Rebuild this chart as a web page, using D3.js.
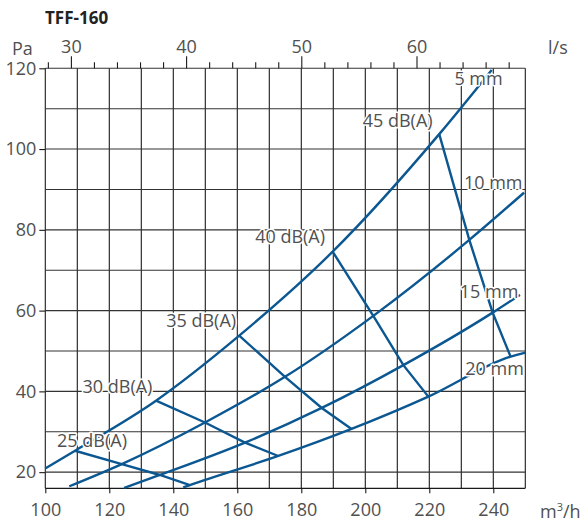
<!DOCTYPE html>
<html><head><meta charset="utf-8">
<script src="https://cdn.jsdelivr.net/npm/d3@7/dist/d3.min.js"></script>
<style>
body{margin:0;background:#fff}
text{font-family:"Open Sans",sans-serif}
</style>
</head><body>
<svg id="chart" width="584" height="527"></svg>
<script>
// ---------- data ----------
const title = "TFF-160";
const xTickValues = [100,120,140,160,180,200,220,240];      // m³/h
const yTickValues = [20,40,60,80,100,120];                  // Pa
const lsMajorTicks = [30,40,50,60];                         // l/s
const lsMinorTicks = [28,32,34,36,38,42,44,46,48,52,54,56,58,62,64,66,68];

// damper curves [m³/h, Pa]
const curve5mm  = [[100,20.9],[109.3,25.3],[134.6,37.7],[160.6,53.8],[189.8,74.6],[223.1,103.7],[239.5,119.6]];
const curve10mm = [[107.5,16.5],[123.9,22.0],[149.9,32.3],[174.9,43.6],[202.5,58.7],[232.5,77.5],[249.6,89.2]];
const curve15mm = [[124.6,16.1],[135.8,19.3],[162.4,27.3],[186.4,35.9],[211.9,46.5],[239.8,59.5],[248.3,63.9]];
const curve20mm = [[143.1,16.2],[145.2,16.8],[172.8,24.0],[195.7,30.7],[219.7,38.7],[245.4,48.6],[250,49.6]];
const curveLabels = ["5 mm","10 mm","15 mm","20 mm"];

// sound level lines [m³/h, Pa]
const db25 = [[109.3,25.3],[123.9,22.0],[135.8,19.3],[145.2,16.8]];
const db30 = [[134.6,37.7],[149.9,32.3],[162.4,27.3],[172.8,24.0]];
const db35 = [[160.6,53.8],[174.9,43.6],[186.4,35.9],[195.7,30.7]];
const db40 = [[189.8,74.6],[202.5,58.7],[211.9,46.5],[219.7,38.7]];
const db45 = [[223.1,103.7],[232.5,77.5],[239.8,59.5],[245.4,48.6]];
const dbLabels = ["25 dB(A)","30 dB(A)","35 dB(A)","40 dB(A)","45 dB(A)"];

// ---------- layout ----------
const svg = d3.select("#chart");
const x = d3.scaleLinear().domain([100,250]).range([45.3,525.3]);
const y = d3.scaleLinear().domain([16,120]).range([488.3,68.3]);
const xLs = d3.scaleLinear().domain([100/3.6,250/3.6]).range([45.3,525.3]);
const blue = "#0b5791";
const txt = "#505050";
const fs = "18px";

// grid
const g = svg.append("g");
g.selectAll(".vg").data(d3.range(100,251,10)).join("line")
  .attr("x1",d=>x(d)).attr("x2",d=>x(d)).attr("y1",y(120)).attr("y2",y(16))
  .attr("stroke","#1a1a1a").attr("stroke-width",1.1);
g.selectAll(".hg").data(d3.range(20,121,10)).join("line")
  .attr("x1",x(100)).attr("x2",x(250)).attr("y1",d=>y(d)).attr("y2",d=>y(d))
  .attr("stroke","#333").attr("stroke-width",1.1);
g.append("line").attr("x1",x(100)).attr("x2",x(250)).attr("y1",y(16)).attr("y2",y(16))
  .attr("stroke","#1a1a1a").attr("stroke-width",1.3);

function styleAxis(sel){
  sel.select(".domain").remove();
  sel.selectAll("line").attr("stroke","#1a1a1a").attr("stroke-width",1.1);
  sel.selectAll("text").attr("fill",txt).style("font-size",fs);
}

// bottom axis
svg.append("g").attr("transform",`translate(0,${y(16)})`)
  .call(d3.axisBottom(x).tickValues(xTickValues).tickSize(5).tickPadding(10))
  .call(styleAxis);
// left axis
svg.append("g").attr("transform",`translate(${x(100)},0)`)
  .call(d3.axisLeft(y).tickValues(yTickValues).tickSize(6).tickPadding(3))
  .call(styleAxis);
// top axis minor + major
svg.append("g").attr("transform",`translate(0,${y(120)})`)
  .call(d3.axisTop(xLs).tickValues(lsMinorTicks).tickSize(6).tickFormat(""))
  .call(styleAxis);
svg.append("g").attr("transform",`translate(0,${y(120)})`)
  .call(d3.axisTop(xLs).tickValues(lsMajorTicks).tickSize(12).tickPadding(3))
  .call(styleAxis);

// unit labels
svg.append("text").attr("x",12).attr("y",55).text("Pa").attr("fill",txt).style("font-size",fs);
svg.append("text").attr("x",548).attr("y",53.5).text("l/s").attr("fill",txt).style("font-size",fs);
const mu = svg.append("text").attr("x",540).attr("y",517.5).attr("fill",txt).style("font-size",fs);
mu.append("tspan").text("m");
mu.append("tspan").text("3").attr("dy",-7).style("font-size","11px");
mu.append("tspan").text("/h").attr("dy",7);

// title
svg.append("text").attr("x",45).attr("y",24).text(title)
  .attr("fill","#222").style("font-size","17px").style("font-weight","bold");

// curves
const line = d3.line().x(d=>x(d[0])).y(d=>y(d[1])).curve(d3.curveMonotoneX);
const straight = d3.line().x(d=>x(d[0])).y(d=>y(d[1]));
const curves = [curve5mm,curve10mm,curve15mm,curve20mm];
svg.selectAll(".curve").data(curves).join("path")
  .attr("d",line).attr("fill","none").attr("stroke",blue).attr("stroke-width",2.4);
const dbs = [db25,db30,db35,db40,db45];
svg.selectAll(".db").data(dbs).join("path")
  .attr("d",straight).attr("fill","none").attr("stroke",blue).attr("stroke-width",2.4);

// labels with white halo
function label(t,px,py,anchor){
  svg.append("text").attr("x",px).attr("y",py).attr("text-anchor",anchor).text(t)
    .attr("fill",txt).style("font-size",fs)
    .attr("stroke","#fff").attr("stroke-width",3).attr("paint-order","stroke")
    .attr("stroke-linejoin","round");
}
const curveLabelOffsets = [[11,15],[-1.5,-4],[-1.5,3],[-1.5,22]];
curves.forEach((c,i)=>{
  const e = c[c.length-1];
  label(curveLabels[i], x(e[0])+curveLabelOffsets[i][0], y(e[1])+curveLabelOffsets[i][1], "end");
});
const dbLabelOffsets = [[-18,-3.5],[-73.5,-7.5],[-73,-9],[-77.5,-9],[-76.5,-7]];
dbs.forEach((d,i)=>{
  const s = d[0];
  label(dbLabels[i], x(s[0])+dbLabelOffsets[i][0], y(s[1])+dbLabelOffsets[i][1], "start");
});
</script>
</body></html>
